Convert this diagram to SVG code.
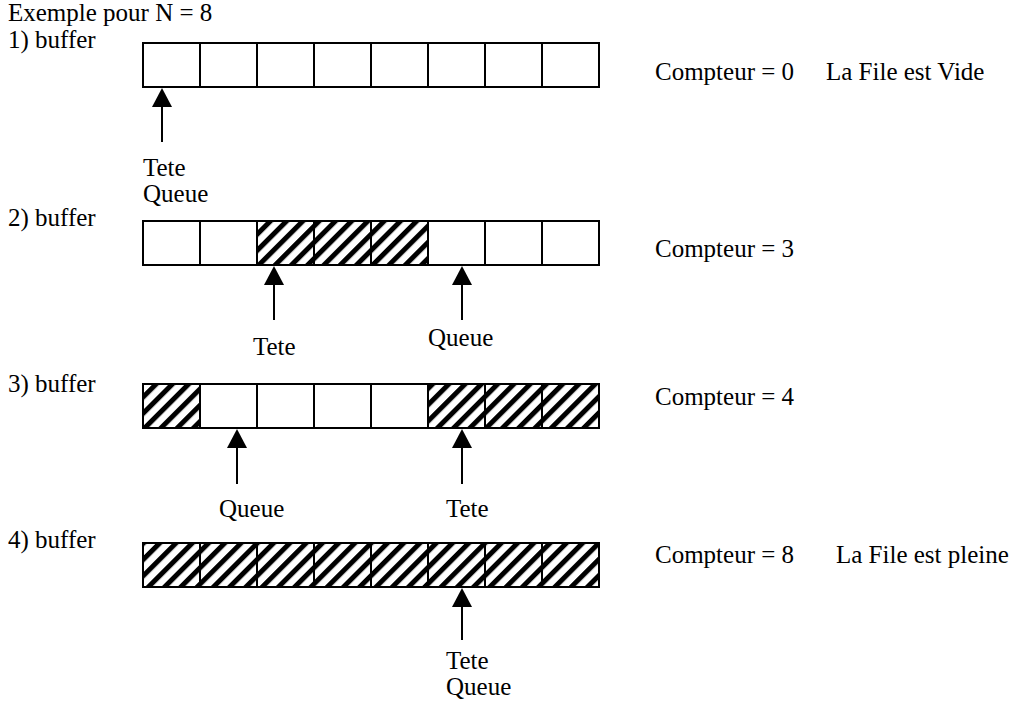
<svg xmlns="http://www.w3.org/2000/svg" width="1026" height="707" viewBox="0 0 1026 707">
  <style>
    text { font-family: "Liberation Serif", "Times New Roman", serif; font-size: 25px; fill: #000; }
    .cell { fill: #fff; stroke: #000; stroke-width: 2; }
    .full { fill: url(#hatch); stroke: #000; stroke-width: 2; }
    .stem { stroke: #000; stroke-width: 2; }
  </style>
  <defs>
    <!-- diagonal stripes for occupied slots -->
    <pattern id="hatch" patternUnits="userSpaceOnUse" width="11.5" height="11.5" patternTransform="rotate(45)">
      <rect width="11.5" height="11.5" fill="#fff"/>
      <rect x="0" y="0" width="5" height="11.5" fill="#000"/>
    </pattern>
    <!-- pointer head, tip at the origin -->
    <polygon id="tri" points="0,0 -10,19 10,19" fill="#000"/>
  </defs>

  <text x="8" y="21">Exemple pour N = 8</text>

  <!-- 1) empty queue -->
  <g id="row1">
    <text x="8" y="48">1) buffer</text>
    <rect class="cell" x="143" y="43" width="57" height="44"/>
    <rect class="cell" x="200" y="43" width="57" height="44"/>
    <rect class="cell" x="257" y="43" width="57" height="44"/>
    <rect class="cell" x="314" y="43" width="57" height="44"/>
    <rect class="cell" x="371" y="43" width="57" height="44"/>
    <rect class="cell" x="428" y="43" width="57" height="44"/>
    <rect class="cell" x="485" y="43" width="57" height="44"/>
    <rect class="cell" x="542" y="43" width="57" height="44"/>
    <text x="655" y="80">Compteur = 0</text>
    <text x="826" y="80">La File est Vide</text>
  </g>

  <!-- 2) three elements -->
  <g id="row2">
    <text x="8" y="226">2) buffer</text>
    <rect class="cell" x="143" y="221" width="57" height="44"/>
    <rect class="cell" x="200" y="221" width="57" height="44"/>
    <rect class="full" x="257" y="221" width="57" height="44"/>
    <rect class="full" x="314" y="221" width="57" height="44"/>
    <rect class="full" x="371" y="221" width="57" height="44"/>
    <rect class="cell" x="428" y="221" width="57" height="44"/>
    <rect class="cell" x="485" y="221" width="57" height="44"/>
    <rect class="cell" x="542" y="221" width="57" height="44"/>
    <text x="655" y="257">Compteur = 3</text>
  </g>

  <!-- 3) wrapped around -->
  <g id="row3">
    <text x="8" y="392">3) buffer</text>
    <rect class="full" x="143" y="384" width="57" height="44"/>
    <rect class="cell" x="200" y="384" width="57" height="44"/>
    <rect class="cell" x="257" y="384" width="57" height="44"/>
    <rect class="cell" x="314" y="384" width="57" height="44"/>
    <rect class="cell" x="371" y="384" width="57" height="44"/>
    <rect class="full" x="428" y="384" width="57" height="44"/>
    <rect class="full" x="485" y="384" width="57" height="44"/>
    <rect class="full" x="542" y="384" width="57" height="44"/>
    <text x="655" y="405">Compteur = 4</text>
  </g>

  <!-- 4) full queue -->
  <g id="row4">
    <text x="8" y="548">4) buffer</text>
    <rect class="full" x="143" y="543" width="57" height="44"/>
    <rect class="full" x="200" y="543" width="57" height="44"/>
    <rect class="full" x="257" y="543" width="57" height="44"/>
    <rect class="full" x="314" y="543" width="57" height="44"/>
    <rect class="full" x="371" y="543" width="57" height="44"/>
    <rect class="full" x="428" y="543" width="57" height="44"/>
    <rect class="full" x="485" y="543" width="57" height="44"/>
    <rect class="full" x="542" y="543" width="57" height="44"/>
    <text x="655" y="563">Compteur = 8</text>
    <text x="836" y="563">La File est pleine</text>
  </g>

  <!-- head / tail pointers -->
  <g id="pointers">
    <line class="stem" x1="162" y1="142" x2="162" y2="105"/>
    <use href="#tri" x="162" y="88"/>
    <line class="stem" x1="274" y1="320" x2="274" y2="283"/>
    <use href="#tri" x="274" y="266"/>
    <line class="stem" x1="462" y1="320" x2="462" y2="283"/>
    <use href="#tri" x="462" y="266"/>
    <line class="stem" x1="237" y1="484" x2="237" y2="446"/>
    <use href="#tri" x="237" y="429"/>
    <line class="stem" x1="462" y1="484" x2="462" y2="446"/>
    <use href="#tri" x="462" y="429"/>
    <line class="stem" x1="462" y1="640" x2="462" y2="605"/>
    <use href="#tri" x="462" y="588"/>
  </g>

  <g id="labels">
    <text x="143" y="176">Tete</text>
    <text x="143" y="202">Queue</text>
    <text x="253" y="355">Tete</text>
    <text x="428" y="346">Queue</text>
    <text x="219" y="517">Queue</text>
    <text x="446" y="517">Tete</text>
    <text x="446" y="669">Tete</text>
    <text x="446" y="695">Queue</text>
  </g>
</svg>
